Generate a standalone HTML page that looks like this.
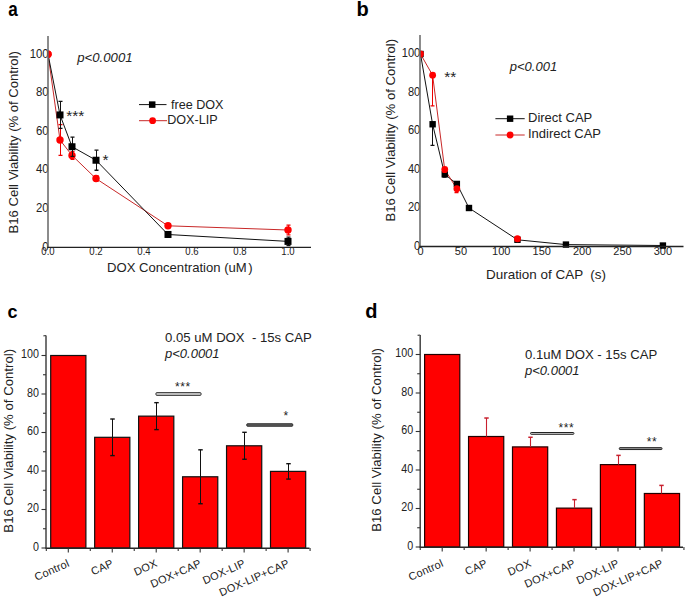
<!DOCTYPE html>
<html><head><meta charset="utf-8"><style>
html,body{margin:0;padding:0;background:#fff;}
svg{display:block;}
text{font-family:"Liberation Sans", sans-serif;}
</style></head><body>
<svg width="685" height="599" viewBox="0 0 685 599">
<rect width="685" height="599" fill="#fff"/>
<defs><clipPath id="ca"><rect x="48" y="30" width="270" height="217.5"/></clipPath><clipPath id="cb"><rect x="420" y="30" width="265" height="246.5"/></clipPath></defs>
<text transform="translate(8.3,15.8) scale(0.88,1)" font-size="19.5" font-weight="bold" fill="#000">a</text>
<text x="356.60" y="15.60" font-size="20" text-anchor="start" fill="#000" font-weight="bold" font-style="normal" >b</text>
<text x="7.50" y="318.00" font-size="18" text-anchor="start" fill="#000" font-weight="bold" font-style="normal" >c</text>
<text x="365.30" y="317.60" font-size="20" text-anchor="start" fill="#000" font-weight="bold" font-style="normal" >d</text>
<text transform="translate(48.60,250.60) scale(0.93,1)" font-size="12.2" text-anchor="end" fill="#222" font-weight="normal" font-style="normal" >0</text>
<text transform="translate(48.60,212.04) scale(0.93,1)" font-size="12.2" text-anchor="end" fill="#222" font-weight="normal" font-style="normal" >20</text>
<text transform="translate(48.60,173.48) scale(0.93,1)" font-size="12.2" text-anchor="end" fill="#222" font-weight="normal" font-style="normal" >40</text>
<text transform="translate(48.60,134.92) scale(0.93,1)" font-size="12.2" text-anchor="end" fill="#222" font-weight="normal" font-style="normal" >60</text>
<text transform="translate(48.60,96.36) scale(0.93,1)" font-size="12.2" text-anchor="end" fill="#222" font-weight="normal" font-style="normal" >80</text>
<text transform="translate(48.60,57.80) scale(0.93,1)" font-size="12.2" text-anchor="end" fill="#222" font-weight="normal" font-style="normal" >100</text>
<text transform="translate(48.00,254.70) scale(0.87,1)" font-size="11" text-anchor="middle" fill="#222" font-weight="normal" font-style="normal" >0.0</text>
<text transform="translate(96.00,254.70) scale(0.87,1)" font-size="11" text-anchor="middle" fill="#222" font-weight="normal" font-style="normal" >0.2</text>
<text transform="translate(144.00,254.70) scale(0.87,1)" font-size="11" text-anchor="middle" fill="#222" font-weight="normal" font-style="normal" >0.4</text>
<text transform="translate(192.00,254.70) scale(0.87,1)" font-size="11" text-anchor="middle" fill="#222" font-weight="normal" font-style="normal" >0.6</text>
<text transform="translate(240.00,254.70) scale(0.87,1)" font-size="11" text-anchor="middle" fill="#222" font-weight="normal" font-style="normal" >0.8</text>
<text transform="translate(288.00,254.70) scale(0.87,1)" font-size="11" text-anchor="middle" fill="#222" font-weight="normal" font-style="normal" >1.0</text>
<text x="107.00" y="271.70" font-size="13.1" text-anchor="start" fill="#222" font-weight="normal" font-style="normal" >DOX Concentration (uM<tspan dx="1.6">)</tspan></text>
<text transform="translate(18.3,142.3) rotate(-90)" font-size="13.1" text-anchor="middle" fill="#222">B16 Cell Viability (% of Control)</text>
<text x="77.20" y="61.50" font-size="13.2" text-anchor="start" fill="#222" font-weight="normal" font-style="italic" >p&lt;0.0001</text>
<polyline points="48.0,54.2 60.0,140.0 72.0,155.4 96.0,178.6 168.0,225.8 288.0,230.0" fill="none" stroke="#c82828" stroke-width="1" stroke-linejoin="round" clip-path="url(#ca)"/>
<polyline points="48.0,54.2 60.0,114.9 72.0,146.7 96.0,160.2 168.0,234.5 288.0,241.4" fill="none" stroke="#111" stroke-width="1" stroke-linejoin="round" clip-path="url(#ca)"/>
<line x1="60.50" y1="124.57" x2="60.50" y2="155.42" stroke="#e00" stroke-width="1" clip-path="url(#ca)"/>
<line x1="58.50" y1="124.57" x2="62.50" y2="124.57" stroke="#e00" stroke-width="1.3" clip-path="url(#ca)"/>
<line x1="58.50" y1="155.42" x2="62.50" y2="155.42" stroke="#e00" stroke-width="1.3" clip-path="url(#ca)"/>
<line x1="72.50" y1="151.56" x2="72.50" y2="159.28" stroke="#e00" stroke-width="1" clip-path="url(#ca)"/>
<line x1="70.50" y1="151.56" x2="74.50" y2="151.56" stroke="#e00" stroke-width="1.3" clip-path="url(#ca)"/>
<line x1="70.50" y1="159.28" x2="74.50" y2="159.28" stroke="#e00" stroke-width="1.3" clip-path="url(#ca)"/>
<line x1="96.50" y1="175.66" x2="96.50" y2="181.45" stroke="#e00" stroke-width="1" clip-path="url(#ca)"/>
<line x1="94.50" y1="175.66" x2="98.50" y2="175.66" stroke="#e00" stroke-width="1.3" clip-path="url(#ca)"/>
<line x1="94.50" y1="181.45" x2="98.50" y2="181.45" stroke="#e00" stroke-width="1.3" clip-path="url(#ca)"/>
<line x1="168.50" y1="223.86" x2="168.50" y2="227.72" stroke="#e00" stroke-width="1" clip-path="url(#ca)"/>
<line x1="166.50" y1="223.86" x2="170.50" y2="223.86" stroke="#e00" stroke-width="1.3" clip-path="url(#ca)"/>
<line x1="166.50" y1="227.72" x2="170.50" y2="227.72" stroke="#e00" stroke-width="1.3" clip-path="url(#ca)"/>
<line x1="288.50" y1="225.21" x2="288.50" y2="234.85" stroke="#e00" stroke-width="1" clip-path="url(#ca)"/>
<line x1="286.50" y1="225.21" x2="290.50" y2="225.21" stroke="#e00" stroke-width="1.3" clip-path="url(#ca)"/>
<line x1="286.50" y1="234.85" x2="290.50" y2="234.85" stroke="#e00" stroke-width="1.3" clip-path="url(#ca)"/>
<circle cx="48.00" cy="54.20" r="3.7" fill="#f00" clip-path="url(#ca)"/>
<circle cx="60.00" cy="140.00" r="3.7" fill="#f00" clip-path="url(#ca)"/>
<circle cx="72.00" cy="155.42" r="3.7" fill="#f00" clip-path="url(#ca)"/>
<circle cx="96.00" cy="178.56" r="3.7" fill="#f00" clip-path="url(#ca)"/>
<circle cx="168.00" cy="225.79" r="3.7" fill="#f00" clip-path="url(#ca)"/>
<circle cx="288.00" cy="230.03" r="3.7" fill="#f00" clip-path="url(#ca)"/>
<line x1="60.50" y1="101.44" x2="60.50" y2="128.43" stroke="#111" stroke-width="1" clip-path="url(#ca)"/>
<line x1="58.50" y1="101.44" x2="62.50" y2="101.44" stroke="#111" stroke-width="1.3" clip-path="url(#ca)"/>
<line x1="58.50" y1="128.43" x2="62.50" y2="128.43" stroke="#111" stroke-width="1.3" clip-path="url(#ca)"/>
<line x1="72.50" y1="137.10" x2="72.50" y2="156.38" stroke="#111" stroke-width="1" clip-path="url(#ca)"/>
<line x1="70.50" y1="137.10" x2="74.50" y2="137.10" stroke="#111" stroke-width="1.3" clip-path="url(#ca)"/>
<line x1="70.50" y1="156.38" x2="74.50" y2="156.38" stroke="#111" stroke-width="1.3" clip-path="url(#ca)"/>
<line x1="96.50" y1="150.21" x2="96.50" y2="170.27" stroke="#111" stroke-width="1" clip-path="url(#ca)"/>
<line x1="94.50" y1="150.21" x2="98.50" y2="150.21" stroke="#111" stroke-width="1.3" clip-path="url(#ca)"/>
<line x1="94.50" y1="170.27" x2="98.50" y2="170.27" stroke="#111" stroke-width="1.3" clip-path="url(#ca)"/>
<line x1="168.50" y1="231.58" x2="168.50" y2="237.36" stroke="#111" stroke-width="1" clip-path="url(#ca)"/>
<line x1="166.50" y1="231.58" x2="170.50" y2="231.58" stroke="#111" stroke-width="1.3" clip-path="url(#ca)"/>
<line x1="166.50" y1="237.36" x2="170.50" y2="237.36" stroke="#111" stroke-width="1.3" clip-path="url(#ca)"/>
<line x1="288.50" y1="237.17" x2="288.50" y2="245.65" stroke="#111" stroke-width="1" clip-path="url(#ca)"/>
<line x1="286.50" y1="237.17" x2="290.50" y2="237.17" stroke="#111" stroke-width="1.3" clip-path="url(#ca)"/>
<line x1="286.50" y1="245.65" x2="290.50" y2="245.65" stroke="#111" stroke-width="1.3" clip-path="url(#ca)"/>
<rect x="56.50" y="111.43" width="7" height="7" fill="#000" clip-path="url(#ca)"/>
<rect x="68.50" y="143.24" width="7" height="7" fill="#000" clip-path="url(#ca)"/>
<rect x="92.50" y="156.74" width="7" height="7" fill="#000" clip-path="url(#ca)"/>
<rect x="164.50" y="230.97" width="7" height="7" fill="#000" clip-path="url(#ca)"/>
<rect x="284.50" y="237.91" width="7" height="7" fill="#000" clip-path="url(#ca)"/>
<circle cx="48.00" cy="54.20" r="3.7" fill="#f00" clip-path="url(#ca)"/>
<line x1="48.00" y1="36.00" x2="48.00" y2="247.50" stroke="#666" stroke-width="1.5" />
<line x1="47.20" y1="247.40" x2="311.00" y2="247.40" stroke="#222" stroke-width="1.4" />
<text x="66.20" y="120.50" font-size="15.5" text-anchor="start" fill="#222" font-weight="normal" font-style="normal" >***</text>
<text x="102.60" y="165.20" font-size="15.5" text-anchor="start" fill="#222" font-weight="normal" font-style="normal" >*</text>
<line x1="139.00" y1="104.60" x2="166.50" y2="104.60" stroke="#111" stroke-width="1" />
<rect x="148.95" y="101.35" width="6.5" height="6.5" fill="#000" />
<text x="171.00" y="109.00" font-size="12.6" text-anchor="start" fill="#222" font-weight="normal" font-style="normal" >free DOX</text>
<line x1="139.00" y1="120.70" x2="167.00" y2="120.70" stroke="#c82828" stroke-width="1" />
<circle cx="152.60" cy="120.70" r="3.4" fill="#f00" />
<text x="167.20" y="124.30" font-size="12.6" text-anchor="start" fill="#222" font-weight="normal" font-style="normal" >DOX-LIP</text>
<text transform="translate(420.20,249.50) scale(0.93,1)" font-size="11.9" text-anchor="end" fill="#222" font-weight="normal" font-style="normal" >0</text>
<text transform="translate(420.20,211.00) scale(0.93,1)" font-size="11.9" text-anchor="end" fill="#222" font-weight="normal" font-style="normal" >20</text>
<text transform="translate(420.20,172.50) scale(0.93,1)" font-size="11.9" text-anchor="end" fill="#222" font-weight="normal" font-style="normal" >40</text>
<text transform="translate(420.20,134.00) scale(0.93,1)" font-size="11.9" text-anchor="end" fill="#222" font-weight="normal" font-style="normal" >60</text>
<text transform="translate(420.20,95.50) scale(0.93,1)" font-size="11.9" text-anchor="end" fill="#222" font-weight="normal" font-style="normal" >80</text>
<text transform="translate(420.20,57.00) scale(0.93,1)" font-size="11.9" text-anchor="end" fill="#222" font-weight="normal" font-style="normal" >100</text>
<text x="420.50" y="254.70" font-size="11" text-anchor="middle" fill="#222" font-weight="normal" font-style="normal" >0</text>
<text x="460.90" y="254.70" font-size="11" text-anchor="middle" fill="#222" font-weight="normal" font-style="normal" >50</text>
<text x="501.30" y="254.70" font-size="11" text-anchor="middle" fill="#222" font-weight="normal" font-style="normal" >100</text>
<text x="541.70" y="254.70" font-size="11" text-anchor="middle" fill="#222" font-weight="normal" font-style="normal" >150</text>
<text x="582.10" y="254.70" font-size="11" text-anchor="middle" fill="#222" font-weight="normal" font-style="normal" >200</text>
<text x="622.50" y="254.70" font-size="11" text-anchor="middle" fill="#222" font-weight="normal" font-style="normal" >250</text>
<text x="662.90" y="254.70" font-size="11" text-anchor="middle" fill="#222" font-weight="normal" font-style="normal" >300</text>
<text x="486.00" y="278.70" font-size="13.45" text-anchor="start" fill="#222" font-weight="normal" font-style="normal" >Duration of CAP &#160;(s)</text>
<text transform="translate(395,130.2) rotate(-90)" font-size="13.1" text-anchor="middle" fill="#222">B16 Cell Viability (% of Control)</text>
<text x="509.80" y="71.00" font-size="13" text-anchor="start" fill="#222" font-weight="normal" font-style="italic" >p&lt;0.001</text>
<polyline points="420.5,54.0 432.6,124.3 444.7,174.3 456.9,183.9 469.0,208.0 517.5,239.8 565.9,244.6 662.9,245.5" fill="none" stroke="#111" stroke-width="1" stroke-linejoin="round" clip-path="url(#cb)"/>
<polyline points="420.5,54.0 432.6,75.2 444.7,169.5 456.9,188.8" fill="none" stroke="#c82828" stroke-width="1" stroke-linejoin="round" clip-path="url(#cb)"/>
<line x1="432.50" y1="124.26" x2="432.50" y2="145.44" stroke="#111" stroke-width="1" clip-path="url(#cb)"/>
<line x1="430.50" y1="145.44" x2="434.50" y2="145.44" stroke="#111" stroke-width="1.3" clip-path="url(#cb)"/>
<line x1="444.50" y1="174.31" x2="444.50" y2="177.20" stroke="#111" stroke-width="1" clip-path="url(#cb)"/>
<line x1="442.50" y1="177.20" x2="446.50" y2="177.20" stroke="#111" stroke-width="1.3" clip-path="url(#cb)"/>
<line x1="456.50" y1="183.94" x2="456.50" y2="185.86" stroke="#111" stroke-width="1" clip-path="url(#cb)"/>
<line x1="454.50" y1="185.86" x2="458.50" y2="185.86" stroke="#111" stroke-width="1.3" clip-path="url(#cb)"/>
<rect x="417.30" y="50.80" width="6.4" height="6.4" fill="#000" clip-path="url(#cb)"/>
<rect x="429.42" y="121.06" width="6.4" height="6.4" fill="#000" clip-path="url(#cb)"/>
<rect x="441.54" y="171.11" width="6.4" height="6.4" fill="#000" clip-path="url(#cb)"/>
<rect x="453.66" y="180.74" width="6.4" height="6.4" fill="#000" clip-path="url(#cb)"/>
<rect x="465.78" y="204.80" width="6.4" height="6.4" fill="#000" clip-path="url(#cb)"/>
<rect x="514.26" y="236.56" width="6.4" height="6.4" fill="#000" clip-path="url(#cb)"/>
<rect x="562.74" y="241.38" width="6.4" height="6.4" fill="#000" clip-path="url(#cb)"/>
<rect x="659.70" y="242.34" width="6.4" height="6.4" fill="#000" clip-path="url(#cb)"/>
<line x1="432.50" y1="75.17" x2="432.50" y2="105.97" stroke="#e00" stroke-width="1" clip-path="url(#cb)"/>
<line x1="430.50" y1="105.97" x2="434.50" y2="105.97" stroke="#e00" stroke-width="1.3" clip-path="url(#cb)"/>
<line x1="444.50" y1="169.50" x2="444.50" y2="172.39" stroke="#e00" stroke-width="1" clip-path="url(#cb)"/>
<line x1="442.50" y1="172.39" x2="446.50" y2="172.39" stroke="#e00" stroke-width="1.3" clip-path="url(#cb)"/>
<line x1="456.50" y1="188.75" x2="456.50" y2="192.60" stroke="#e00" stroke-width="1" clip-path="url(#cb)"/>
<line x1="454.50" y1="192.60" x2="458.50" y2="192.60" stroke="#e00" stroke-width="1.3" clip-path="url(#cb)"/>
<circle cx="420.50" cy="54.00" r="3.4" fill="#f00" clip-path="url(#cb)"/>
<circle cx="432.62" cy="75.17" r="3.4" fill="#f00" clip-path="url(#cb)"/>
<circle cx="444.74" cy="169.50" r="3.4" fill="#f00" clip-path="url(#cb)"/>
<circle cx="456.86" cy="188.75" r="3.4" fill="#f00" clip-path="url(#cb)"/>
<circle cx="517.46" cy="238.80" r="3.5" fill="#f00" clip-path="url(#cb)"/>
<line x1="420.00" y1="35.00" x2="420.00" y2="247.00" stroke="#666" stroke-width="1.5" />
<line x1="419.30" y1="246.50" x2="683.50" y2="246.50" stroke="#222" stroke-width="1.4" />
<text x="444.20" y="82.00" font-size="15.5" text-anchor="start" fill="#222" font-weight="normal" font-style="normal" >**</text>
<line x1="495.40" y1="118.70" x2="524.70" y2="118.70" stroke="#111" stroke-width="1" />
<rect x="506.90" y="115.50" width="6.4" height="6.4" fill="#000" />
<text x="528.00" y="122.20" font-size="13" text-anchor="start" fill="#222" font-weight="normal" font-style="normal" >Direct CAP</text>
<line x1="495.40" y1="135.00" x2="524.70" y2="135.00" stroke="#c82828" stroke-width="1" />
<circle cx="510.10" cy="135.00" r="3.4" fill="#f00" />
<text x="528.00" y="138.00" font-size="13" text-anchor="start" fill="#222" font-weight="normal" font-style="normal" >Indirect CAP</text>
<rect x="50.70" y="355.50" width="35.2" height="192.50" fill="#ff0000" stroke="#111" stroke-width="1.2"/>
<rect x="94.66" y="437.31" width="35.2" height="110.69" fill="#ff0000" stroke="#111" stroke-width="1.2"/>
<rect x="138.62" y="416.14" width="35.2" height="131.86" fill="#ff0000" stroke="#111" stroke-width="1.2"/>
<rect x="182.58" y="476.77" width="35.2" height="71.23" fill="#ff0000" stroke="#111" stroke-width="1.2"/>
<rect x="226.54" y="445.78" width="35.2" height="102.22" fill="#ff0000" stroke="#111" stroke-width="1.2"/>
<rect x="270.50" y="471.38" width="35.2" height="76.62" fill="#ff0000" stroke="#111" stroke-width="1.2"/>
<line x1="112.50" y1="419.02" x2="112.50" y2="455.60" stroke="#111" stroke-width="1.0" />
<line x1="110.25" y1="419.02" x2="114.75" y2="419.02" stroke="#111" stroke-width="1.4" />
<line x1="110.25" y1="455.60" x2="114.75" y2="455.60" stroke="#111" stroke-width="1.4" />
<line x1="156.50" y1="402.66" x2="156.50" y2="429.61" stroke="#111" stroke-width="1.0" />
<line x1="154.25" y1="402.66" x2="158.75" y2="402.66" stroke="#111" stroke-width="1.4" />
<line x1="154.25" y1="429.61" x2="158.75" y2="429.61" stroke="#111" stroke-width="1.4" />
<line x1="200.50" y1="449.82" x2="200.50" y2="503.73" stroke="#111" stroke-width="1.0" />
<line x1="198.25" y1="449.82" x2="202.75" y2="449.82" stroke="#111" stroke-width="1.4" />
<line x1="198.25" y1="503.73" x2="202.75" y2="503.73" stroke="#111" stroke-width="1.4" />
<line x1="244.50" y1="432.31" x2="244.50" y2="459.26" stroke="#111" stroke-width="1.0" />
<line x1="242.25" y1="432.31" x2="246.75" y2="432.31" stroke="#111" stroke-width="1.4" />
<line x1="242.25" y1="459.26" x2="246.75" y2="459.26" stroke="#111" stroke-width="1.4" />
<line x1="288.50" y1="463.69" x2="288.50" y2="479.09" stroke="#111" stroke-width="1.0" />
<line x1="286.25" y1="463.69" x2="290.75" y2="463.69" stroke="#111" stroke-width="1.4" />
<line x1="286.25" y1="479.09" x2="290.75" y2="479.09" stroke="#111" stroke-width="1.4" />
<line x1="46.00" y1="335.50" x2="46.00" y2="548.50" stroke="#444" stroke-width="1.5" />
<line x1="43.40" y1="335.80" x2="46.00" y2="335.50" stroke="#444" stroke-width="1.2" />
<line x1="45.50" y1="548.20" x2="309.50" y2="548.20" stroke="#262626" stroke-width="1.4" />
<line x1="41.50" y1="548.00" x2="46.00" y2="548.00" stroke="#333" stroke-width="1.1" />
<line x1="43.00" y1="528.75" x2="46.00" y2="528.75" stroke="#333" stroke-width="1.1" />
<line x1="41.50" y1="509.50" x2="46.00" y2="509.50" stroke="#333" stroke-width="1.1" />
<line x1="43.00" y1="490.25" x2="46.00" y2="490.25" stroke="#333" stroke-width="1.1" />
<line x1="41.50" y1="471.00" x2="46.00" y2="471.00" stroke="#333" stroke-width="1.1" />
<line x1="43.00" y1="451.75" x2="46.00" y2="451.75" stroke="#333" stroke-width="1.1" />
<line x1="41.50" y1="432.50" x2="46.00" y2="432.50" stroke="#333" stroke-width="1.1" />
<line x1="43.00" y1="413.25" x2="46.00" y2="413.25" stroke="#333" stroke-width="1.1" />
<line x1="41.50" y1="394.00" x2="46.00" y2="394.00" stroke="#333" stroke-width="1.1" />
<line x1="43.00" y1="374.75" x2="46.00" y2="374.75" stroke="#333" stroke-width="1.1" />
<line x1="41.50" y1="355.50" x2="46.00" y2="355.50" stroke="#333" stroke-width="1.1" />
<text transform="translate(38.90,550.50) scale(0.9,1)" font-size="11.9" text-anchor="end" fill="#222" font-weight="normal" font-style="normal" >0</text>
<text transform="translate(38.90,512.00) scale(0.9,1)" font-size="11.9" text-anchor="end" fill="#222" font-weight="normal" font-style="normal" >20</text>
<text transform="translate(38.90,473.50) scale(0.9,1)" font-size="11.9" text-anchor="end" fill="#222" font-weight="normal" font-style="normal" >40</text>
<text transform="translate(38.90,435.00) scale(0.9,1)" font-size="11.9" text-anchor="end" fill="#222" font-weight="normal" font-style="normal" >60</text>
<text transform="translate(38.90,396.50) scale(0.9,1)" font-size="11.9" text-anchor="end" fill="#222" font-weight="normal" font-style="normal" >80</text>
<text transform="translate(38.90,358.00) scale(0.9,1)" font-size="11.9" text-anchor="end" fill="#222" font-weight="normal" font-style="normal" >100</text>
<line x1="68.30" y1="548.00" x2="68.30" y2="552.50" stroke="#333" stroke-width="1.1" />
<line x1="112.26" y1="548.00" x2="112.26" y2="552.50" stroke="#333" stroke-width="1.1" />
<line x1="156.22" y1="548.00" x2="156.22" y2="552.50" stroke="#333" stroke-width="1.1" />
<line x1="200.18" y1="548.00" x2="200.18" y2="552.50" stroke="#333" stroke-width="1.1" />
<line x1="244.14" y1="548.00" x2="244.14" y2="552.50" stroke="#333" stroke-width="1.1" />
<line x1="288.10" y1="548.00" x2="288.10" y2="552.50" stroke="#333" stroke-width="1.1" />
<line x1="46.32" y1="548.00" x2="46.32" y2="551.00" stroke="#333" stroke-width="1.1" />
<line x1="90.28" y1="548.00" x2="90.28" y2="551.00" stroke="#333" stroke-width="1.1" />
<line x1="134.24" y1="548.00" x2="134.24" y2="551.00" stroke="#333" stroke-width="1.1" />
<line x1="178.20" y1="548.00" x2="178.20" y2="551.00" stroke="#333" stroke-width="1.1" />
<line x1="222.16" y1="548.00" x2="222.16" y2="551.00" stroke="#333" stroke-width="1.1" />
<line x1="266.12" y1="548.00" x2="266.12" y2="551.00" stroke="#333" stroke-width="1.1" />
<line x1="310.08" y1="548.00" x2="310.08" y2="551.00" stroke="#333" stroke-width="1.1" />
<text transform="translate(70.30,566.0) rotate(-24)" font-size="11" letter-spacing="0.2" text-anchor="end" fill="#222">Control</text>
<text transform="translate(114.26,566.0) rotate(-24)" font-size="11" letter-spacing="0.2" text-anchor="end" fill="#222">CAP</text>
<text transform="translate(158.22,566.0) rotate(-24)" font-size="11" letter-spacing="0.2" text-anchor="end" fill="#222">DOX</text>
<text transform="translate(202.18,566.0) rotate(-24)" font-size="11" letter-spacing="0.2" text-anchor="end" fill="#222">DOX+CAP</text>
<text transform="translate(246.14,566.0) rotate(-24)" font-size="11" letter-spacing="0.2" text-anchor="end" fill="#222">DOX-LIP</text>
<text transform="translate(290.10,566.0) rotate(-24)" font-size="11" letter-spacing="0.2" text-anchor="end" fill="#222">DOX-LIP+CAP</text>
<text transform="translate(13.2,440.8) rotate(-90)" font-size="13.2" text-anchor="middle" fill="#222">B16 Cell Viability (% of Control)</text>
<rect x="156" y="392.70" width="45" height="2.6" rx="0.6" fill="#e0e0e0" stroke="#222" stroke-width="1"/>
<text x="175" y="391.3" font-size="12" letter-spacing="0.6" fill="#222">***</text>
<rect x="246.8" y="423.80" width="45.89999999999998" height="2.4" rx="0.6" fill="#666" stroke="#222" stroke-width="1"/>
<text x="283.5" y="419.5" font-size="12" letter-spacing="0.6" fill="#222">*</text>
<text x="165.00" y="341.80" font-size="13.15" text-anchor="start" fill="#222" font-weight="normal" font-style="normal" >0.05 uM DOX &#160;- 15s CAP</text>
<text x="165.00" y="357.70" font-size="13" text-anchor="start" fill="#222" font-weight="normal" font-style="italic" >p&lt;0.0001</text>
<rect x="424.60" y="354.50" width="35.2" height="192.50" fill="#ff0000" stroke="#220000" stroke-width="1.2"/>
<rect x="468.55" y="436.50" width="35.2" height="110.50" fill="#ff0000" stroke="#220000" stroke-width="1.2"/>
<rect x="512.50" y="446.90" width="35.2" height="100.10" fill="#ff0000" stroke="#220000" stroke-width="1.2"/>
<rect x="556.45" y="508.12" width="35.2" height="38.88" fill="#ff0000" stroke="#220000" stroke-width="1.2"/>
<rect x="600.40" y="464.61" width="35.2" height="82.39" fill="#ff0000" stroke="#220000" stroke-width="1.2"/>
<rect x="644.35" y="493.49" width="35.2" height="53.51" fill="#ff0000" stroke="#220000" stroke-width="1.2"/>
<line x1="486.50" y1="418.02" x2="486.50" y2="436.50" stroke="#c8202e" stroke-width="1.1" />
<line x1="484.30" y1="418.02" x2="488.70" y2="418.02" stroke="#c8202e" stroke-width="1.5" />
<line x1="530.50" y1="437.27" x2="530.50" y2="446.90" stroke="#c8202e" stroke-width="1.1" />
<line x1="528.30" y1="437.27" x2="532.70" y2="437.27" stroke="#c8202e" stroke-width="1.5" />
<line x1="574.50" y1="499.64" x2="574.50" y2="508.12" stroke="#c8202e" stroke-width="1.1" />
<line x1="572.30" y1="499.64" x2="576.70" y2="499.64" stroke="#c8202e" stroke-width="1.5" />
<line x1="618.50" y1="455.37" x2="618.50" y2="464.61" stroke="#c8202e" stroke-width="1.1" />
<line x1="616.30" y1="455.37" x2="620.70" y2="455.37" stroke="#c8202e" stroke-width="1.5" />
<line x1="661.50" y1="485.40" x2="661.50" y2="493.49" stroke="#c8202e" stroke-width="1.1" />
<line x1="659.30" y1="485.40" x2="663.70" y2="485.40" stroke="#c8202e" stroke-width="1.5" />
<line x1="420.20" y1="335.00" x2="420.20" y2="547.50" stroke="#444" stroke-width="1.5" />
<line x1="417.60" y1="335.30" x2="420.20" y2="335.00" stroke="#444" stroke-width="1.2" />
<line x1="419.70" y1="547.20" x2="683.00" y2="547.20" stroke="#262626" stroke-width="1.4" />
<line x1="415.70" y1="547.00" x2="420.20" y2="547.00" stroke="#333" stroke-width="1.1" />
<line x1="417.20" y1="527.75" x2="420.20" y2="527.75" stroke="#333" stroke-width="1.1" />
<line x1="415.70" y1="508.50" x2="420.20" y2="508.50" stroke="#333" stroke-width="1.1" />
<line x1="417.20" y1="489.25" x2="420.20" y2="489.25" stroke="#333" stroke-width="1.1" />
<line x1="415.70" y1="470.00" x2="420.20" y2="470.00" stroke="#333" stroke-width="1.1" />
<line x1="417.20" y1="450.75" x2="420.20" y2="450.75" stroke="#333" stroke-width="1.1" />
<line x1="415.70" y1="431.50" x2="420.20" y2="431.50" stroke="#333" stroke-width="1.1" />
<line x1="417.20" y1="412.25" x2="420.20" y2="412.25" stroke="#333" stroke-width="1.1" />
<line x1="415.70" y1="393.00" x2="420.20" y2="393.00" stroke="#333" stroke-width="1.1" />
<line x1="417.20" y1="373.75" x2="420.20" y2="373.75" stroke="#333" stroke-width="1.1" />
<line x1="415.70" y1="354.50" x2="420.20" y2="354.50" stroke="#333" stroke-width="1.1" />
<text transform="translate(413.10,549.50) scale(0.9,1)" font-size="11.9" text-anchor="end" fill="#222" font-weight="normal" font-style="normal" >0</text>
<text transform="translate(413.10,511.00) scale(0.9,1)" font-size="11.9" text-anchor="end" fill="#222" font-weight="normal" font-style="normal" >20</text>
<text transform="translate(413.10,472.50) scale(0.9,1)" font-size="11.9" text-anchor="end" fill="#222" font-weight="normal" font-style="normal" >40</text>
<text transform="translate(413.10,434.00) scale(0.9,1)" font-size="11.9" text-anchor="end" fill="#222" font-weight="normal" font-style="normal" >60</text>
<text transform="translate(413.10,395.50) scale(0.9,1)" font-size="11.9" text-anchor="end" fill="#222" font-weight="normal" font-style="normal" >80</text>
<text transform="translate(413.10,357.00) scale(0.9,1)" font-size="11.9" text-anchor="end" fill="#222" font-weight="normal" font-style="normal" >100</text>
<line x1="442.20" y1="547.00" x2="442.20" y2="551.50" stroke="#333" stroke-width="1.1" />
<line x1="486.15" y1="547.00" x2="486.15" y2="551.50" stroke="#333" stroke-width="1.1" />
<line x1="530.10" y1="547.00" x2="530.10" y2="551.50" stroke="#333" stroke-width="1.1" />
<line x1="574.05" y1="547.00" x2="574.05" y2="551.50" stroke="#333" stroke-width="1.1" />
<line x1="618.00" y1="547.00" x2="618.00" y2="551.50" stroke="#333" stroke-width="1.1" />
<line x1="661.95" y1="547.00" x2="661.95" y2="551.50" stroke="#333" stroke-width="1.1" />
<line x1="420.23" y1="547.00" x2="420.23" y2="550.00" stroke="#333" stroke-width="1.1" />
<line x1="464.17" y1="547.00" x2="464.17" y2="550.00" stroke="#333" stroke-width="1.1" />
<line x1="508.12" y1="547.00" x2="508.12" y2="550.00" stroke="#333" stroke-width="1.1" />
<line x1="552.08" y1="547.00" x2="552.08" y2="550.00" stroke="#333" stroke-width="1.1" />
<line x1="596.02" y1="547.00" x2="596.02" y2="550.00" stroke="#333" stroke-width="1.1" />
<line x1="639.98" y1="547.00" x2="639.98" y2="550.00" stroke="#333" stroke-width="1.1" />
<line x1="683.93" y1="547.00" x2="683.93" y2="550.00" stroke="#333" stroke-width="1.1" />
<text transform="translate(444.20,566.0) rotate(-24)" font-size="11" letter-spacing="0.2" text-anchor="end" fill="#222">Control</text>
<text transform="translate(488.15,566.0) rotate(-24)" font-size="11" letter-spacing="0.2" text-anchor="end" fill="#222">CAP</text>
<text transform="translate(532.10,566.0) rotate(-24)" font-size="11" letter-spacing="0.2" text-anchor="end" fill="#222">DOX</text>
<text transform="translate(576.05,566.0) rotate(-24)" font-size="11" letter-spacing="0.2" text-anchor="end" fill="#222">DOX+CAP</text>
<text transform="translate(620.00,566.0) rotate(-24)" font-size="11" letter-spacing="0.2" text-anchor="end" fill="#222">DOX-LIP</text>
<text transform="translate(663.95,566.0) rotate(-24)" font-size="11" letter-spacing="0.2" text-anchor="end" fill="#222">DOX-LIP+CAP</text>
<text transform="translate(380.8,439.9) rotate(-90)" font-size="13.2" text-anchor="middle" fill="#222">B16 Cell Viability (% of Control)</text>
<rect x="530.6" y="432.50" width="43.299999999999955" height="1.8" rx="0.6" fill="#d8d8d8" stroke="#222" stroke-width="1"/>
<text x="558.5" y="432.0" font-size="12" letter-spacing="0.6" fill="#222">***</text>
<rect x="619.3" y="447.65" width="42.700000000000045" height="1.9" rx="0.6" fill="#999" stroke="#222" stroke-width="1"/>
<text x="646.8" y="446.3" font-size="12" letter-spacing="0.6" fill="#222">**</text>
<text x="525.00" y="359.20" font-size="13.15" text-anchor="start" fill="#222" font-weight="normal" font-style="normal" >0.1uM DOX - 15s CAP</text>
<text x="525.00" y="375.00" font-size="13" text-anchor="start" fill="#222" font-weight="normal" font-style="italic" >p&lt;0.0001</text>
</svg>
</body></html>
